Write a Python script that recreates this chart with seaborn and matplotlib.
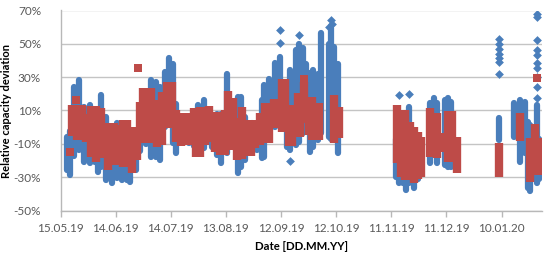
import matplotlib
matplotlib.use("Agg")
import matplotlib.pyplot as plt
import pandas as pd
import seaborn as sns

# values: days since 15.05.19, deviation in %
blue_day = [3.8, 5.3, 7.5, 10, 13, 16, 18.7, 20.5, 22, 25, 28, 31, 33.5, 36, 38, 41, 43.5, 46.5,
            49, 52, 54, 56.6, 59, 61, 63, 65, 67.5, 70, 72.5, 75, 78, 80, 82.5, 85, 87.4, 90.7, 94, 96.5, 98,
            100.5, 104, 107, 109.5, 111, 113.7, 116.5, 119.7, 123, 125, 128.3, 130, 132,
            133.8, 135.6, 137.4, 140, 142, 146, 147.4, 149, 151,
            182.8, 184, 186.4, 187.8, 189.5, 192.4, 194.5,
            201.3, 203, 204.9, 209, 210.9, 212.7, 238.5,
            246.6, 250, 252.5, 254.4, 255.3, 257, 259.5, 260.5]
blue_hi = [-3.7, 0, 26.3, 30, 14.3, 15, 12, 12, 21, 8.3, 2.3, 4.3, 0, 2, 0, -1, -6, 0,
           30, 29, 26, 35, 43.3, 40, 16, 8, 6, 5, 5, 15, 18, 10, 8, 10, 10, 34, 17.3, 20, 20,
           8.3, 4.3, 4.3, 18.3, 27.3, 31, 40.3, 44.3, 24, 36.3, 48, 52, 49.3,
           40, 34.3, 36, 34, 58.3, 52, 61.3, 50, 40,
           -5, 0, 5, 8.3, 14.3, 0, -5,
           16.3, 19.3, 16.3, 18.3, 19.3, 17.3, 7.3,
           16.3, 18.3, 17.3, 5.3, 3.3, -2.7, 15, -5]
blue_lo = [-27.7, -30.7, -19, -15.7, -23, -23.7, -22.7, -28.7, -25.7, -33.7, -35.7, -32.7, -33.7, -33.7, -34.7, -27.7, -16, -12,
           -19.7, -19.7, -21.7, -1.7, -0.7, -11.7, -17.7, -10, -11, -11.7, -13, -15.7, -14.7, -9.7, -14, -18.7, -23.3, -17.7, -13.7, -29.7, -25.7,
           -21.7, -15.7, -15.7, -20.7, -19.7, -8.7, -1.7, 2.3, -13.7, -15.7, -12.7, -11, -5.7,
           -2, -16.7, -13.7, -9.7, -5.7, -8, -9, -9.7, -17.7,
           -31.7, -35.7, -35.7, -39.7, -35.7, -38.7, -33,
           -23.7, 5, -23.7, -24.7, -25.7, -25.7, -9.7,
           -7.7, -22.7, -17.7, -38.7, -40.3, -28, -35.7, -33]

red_day = [6.5, 9, 11.5, 14, 16.5, 19.4, 22.3, 25.6, 28.9, 31.4, 33.8, 36, 38.7, 41.5, 43, 45, 47, 49.2,
           52.5, 55, 57.9, 60.5, 63, 65.5,
           68, 70.5, 72.5, 74, 76, 78.5, 81, 84, 87, 89.5, 91, 94, 96, 98.5, 101, 103.5, 106, 108.5, 111.5, 113.5,
           116, 118.2, 120.5, 122.2, 124.2, 126, 129, 130.5, 132.5, 135, 137, 139, 140.5, 149, 151.5,
           183.3, 185.5, 187.6, 190, 192.4, 194.5, 196,
           200.9, 204.9, 208.5, 211, 213, 215.5, 238.5, 250.2, 255.3, 258, 260.4]
red_hi = [13.3, 13.3, 13.3, 8, 12.6, 12.9, 11.3, 2.3, 2.3, 1.3, 4.3, 4.3, 0.3, -0.7, 15.3, 23.3, 16, 23.3,
          16.3, 21.3, 27.3, 27.3, 10.3, 8.3,
          8.3, 8.3, 11.3, 11.3, 12.3, 12.3, 12.7, 9.3, 9.3, 10.3, 21.9, 17.3, 5.3, 12, 4.3, 4.3, 4, 8.3, 14.3, 14.3,
          16.7, 16.7, 28.7, 28.7, 13, 13, 20.3, 20.3, 27.3, 18.3, 18, 14.3, 14.3, 19.3, 12.3,
          13.3, 7.3, 10.3, 3.3, 0.3, -2.7, -5.7,
          11.7, 8.3, -3.7, 9.7, 9.7, -6, -9.7, 8.3, -6.7, 1.7, -6.7]
red_lo = [-5, -7.7, -7.7, -8.7, -17.7, -20.7, -18.7, -25.7, -22.7, -22.7, -23.7, -23.7, -27.7, -19.7, -5.7, -9.7, -8, -9.7,
          -11.7, -10.7, -0.7, -0.7, -8.7, -11.3,
          -10.7, -10.7, -10.7, -17.7, -17.7, -10.7, -8.7, -14.7, -16.7, -16.7, -10.7, -13.7, -19.7, -19.3, -17.3, -17.3, -12.7, -10.7, -9.7, -9.7,
          -0.7, -0.7, -2.7, -2.7, -11.3, -11.3, -5.7, -5.7, 2.3, -4.7, -7.7, -7.7, -7.7, -9.7, -6.7,
          -21.7, -29.7, -31.7, -31.7, -33.7, -31, -29.7,
          -18.1, -18.7, -14.7, -20.7, -20.7, -27.7, -30, -8.3, -33.1, -28.7, -28.7]

# single points away from the columns
blue_iso_day = [119.7, 119.7, 125, 130, 146, 184, 189.5, 238.5, 238.5, 238.5, 238.5, 238.5, 238.5, 238.5,
                259.5, 259.5, 259.5, 259.5, 259.5, 259.5, 259.5, 259.5, 259.5, 259.5, 147.4, 148]
blue_iso_val = [58, 50.7, -20, 55, 60, 19.3, 19.7, 53, 50, 47, 44, 41.7, 39, 31.7,
                68, 66, 52, 46.3, 43.3, 38.3, 35.3, 30, 24, 17.3, 64.3, 62]
red_iso_day = [42, 5.2, 8.2, 132.5, 259.5]
red_iso_val = [35.3, -15, 16.5, 29, 29.5]

tick_days = [0, 30, 60, 90, 120, 150, 180, 210, 240]
tick_labels = ["15.05.19", "14.06.19", "14.07.19", "13.08.19", "12.09.19",
               "12.10.19", "11.11.19", "11.12.19", "10.01.20"]
y_ticks = [-50, -30, -10, 10, 30, 50, 70]

BLUE = "#4a7ebb"
RED = "#be4b48"
BLUE_CAP = 2.0  # the read envelope includes the marker size


def columns(days, hi, lo, cap=0.0):
    # each day is a vertical run from lo to hi
    top = [v - cap for v in hi]
    bottom = [v + cap for v in lo]
    return pd.DataFrame({"day": list(days) * 2, "value": top + bottom})


sns.set_theme(style="white")
plt.rcParams["font.family"] = ["Lato", "DejaVu Sans"]

fig = plt.figure(figsize=(5.5, 2.56), dpi=100)
ax = fig.add_axes([60.5 / 550, 1 - 210.5 / 256, 481.5 / 550, 200 / 256])

sns.lineplot(data=columns(blue_day, blue_hi, blue_lo, BLUE_CAP), x="day", y="value", units="day",
             estimator=None, color=BLUE, linewidth=4.5, solid_capstyle="round", ax=ax, zorder=3)
sns.scatterplot(x=blue_iso_day, y=blue_iso_val, color=BLUE, marker="D", s=20, linewidth=0, ax=ax, zorder=3)
sns.lineplot(data=columns(red_day, red_hi, red_lo), x="day", y="value", units="day",
             estimator=None, color=RED, linewidth=6.0, solid_capstyle="butt", ax=ax, zorder=4)
sns.scatterplot(x=red_iso_day, y=red_iso_val, color=RED, marker="s", s=26, linewidth=0, ax=ax, zorder=4)

ax.set_xlim(0, 262)
ax.set_ylim(-50, 70)
ax.set_xticks(tick_days, tick_labels)
ax.set_yticks(y_ticks, [f"{v}%" for v in y_ticks])
ax.grid(True, axis="y", color="#c4c4c4", linewidth=1.0)
ax.set_axisbelow(True)

for side in ["top", "right"]:
    ax.spines[side].set_visible(False)
for side in ["left", "bottom"]:
    ax.spines[side].set_color("#b8b8b8")
    ax.spines[side].set_linewidth(1.0)

ax.tick_params(axis="x", bottom=True, length=4, width=1, color="#b8b8b8", labelsize=8.5,
               labelcolor="#595959", pad=5)
ax.tick_params(axis="y", left=False, labelsize=8.5, labelcolor="#595959", pad=8)
ax.set_xlabel("Date [DD.MM.YY]", fontsize=8.2, fontweight="bold", color="black", labelpad=5)
ax.set_ylabel("Relative capacity deviation", fontsize=8.0, fontweight="bold", color="black")
ax.yaxis.set_label_coords(-0.1, 0.5)

fig.savefig("out.png", dpi=100)
